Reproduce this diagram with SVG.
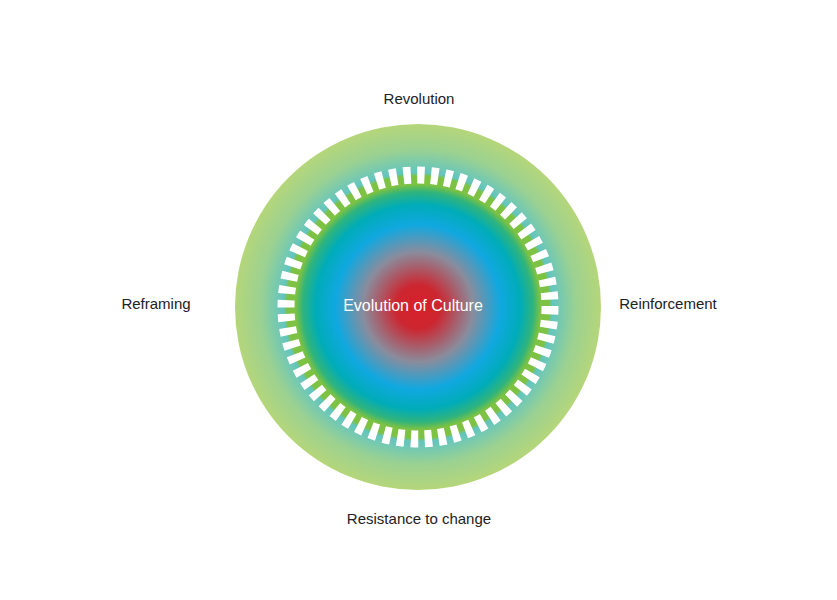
<svg xmlns="http://www.w3.org/2000/svg" width="837" height="600" viewBox="0 0 837 600">
<style>.l{font-family:"Liberation Sans",Arial,sans-serif;font-size:15px;fill:#222;text-anchor:middle}</style>
<defs><radialGradient id="g" cx="418" cy="307" r="183" gradientUnits="userSpaceOnUse">
<stop offset="0" stop-color="#d8202a"/><stop offset="0.12" stop-color="#cc2630"/>
<stop offset="0.3" stop-color="#8a8c9c"/><stop offset="0.45" stop-color="#10a8e0"/>
<stop offset="0.56" stop-color="#00acb8"/><stop offset="0.63" stop-color="#30b47c"/>
<stop offset="0.67" stop-color="#7dc242"/><stop offset="0.715" stop-color="#7dc242"/>
<stop offset="0.735" stop-color="#62c5c0"/><stop offset="0.86" stop-color="#9ad192"/>
<stop offset="1" stop-color="#b5d67a"/></radialGradient></defs>
<g id="circle"><circle cx="418" cy="307" r="183" fill="url(#g)"/>
<circle cx="418" cy="307" r="132" fill="none" stroke="#fff" stroke-width="17" stroke-dasharray="7.4 6.4"/></g>
<g id="center"><text x="413" y="311" class="l" style="fill:#fff;font-size:16px">Evolution of Culture</text></g>
<g id="n1"><text x="419" y="104" class="l">Revolution</text></g>
<g id="n2"><text x="156" y="309" class="l">Reframing</text></g>
<g id="n3"><text x="668" y="309" class="l">Reinforcement</text></g>
<g id="n4"><text x="419" y="524" class="l">Resistance to change</text></g>
<g id="connectors"/>
</svg>
